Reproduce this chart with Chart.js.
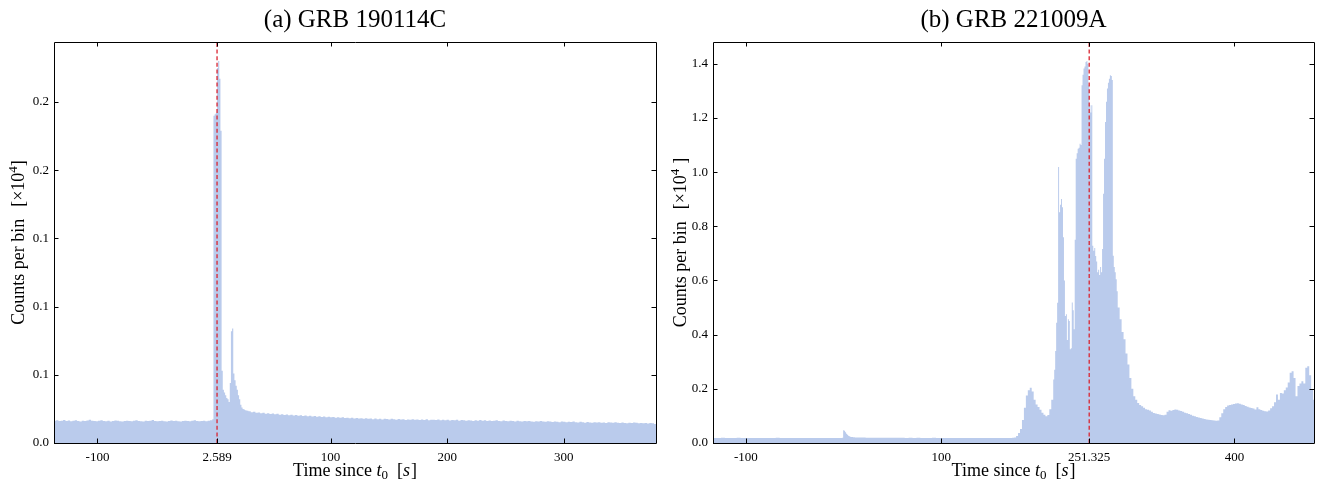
<!DOCTYPE html>
<html>
<head>
<meta charset="utf-8">
<script src="https://cdn.jsdelivr.net/npm/chart.js@4.4.1/dist/chart.umd.min.js"></script>
<style>
  html, body { margin: 0; padding: 0; background: #ffffff; }
  #wrap { position: relative; width: 1325px; height: 484px; overflow: hidden; }
  canvas { position: absolute; top: 0; }
</style>
</head>
<body>
<div id="wrap">
  <canvas id="chartA" width="662" height="484" style="left:0px"></canvas>
  <canvas id="chartB" width="663" height="484" style="left:662px"></canvas>
</div>
<script>
// Counts are stored as raw counts per bin and plotted in units of 10^4.
const COUNT_UNIT = 1e4;

// ---------- (a) GRB 190114C ----------
const titleA = '(a) GRB 190114C';
const timeRangeA = [-137.3, 379.2];
const markerTimeA = 2.589;
const timeTicksA = [-100, 2.589, 100, 200, 300];
const timeTickLabelsA = ['-100', '2.589', '100', '200', '300'];
const countTicksA = [0, 0.05, 0.10, 0.15, 0.20, 0.25];
const countTickLabelsA = ['0.0', '0.1', '0.1', '0.1', '0.2', '0.2'];
// light curve, in runs of equal-width bins (start of first bin, bin width in s)
const runStartsA = [-137.5, -1.5, 29.5];
const runWidthsA = [2, 1, 2];
const countsA_pre = [
  164,166,161,163,168,162,165,160,163,167,
  162,158,163,161,165,170,164,162,159,163,
  166,161,160,164,158,162,165,163,160,157,
  162,164,161,159,163,166,162,160,158,163,
  161,164,168,162,159,161,163,160,158,162,
  165,161,163,159,157,161,164,162,160,163,
  166,161,159,162,164,160,163,167
];
const countsA_burst = [
  175,2400,2410,2420,2750,2800,2670,2290,530,390,
  370,350,330,320,300,440,820,840,510,460,
  420,390,350,320,280,260,250,245,240,238,
  236
];
const countsA_post = [
  232,226,229,221,224,218,222,215,219,213,
  216,210,214,208,211,206,209,204,207,202,
  205,199,203,198,201,196,199,195,198,193,
  196,191,194,189,192,188,191,186,189,185,
  188,183,186,182,185,180,184,179,182,178,
  181,177,180,175,179,174,178,173,177,176,
  172,178,174,170,176,172,175,169,173,171,
  175,170,173,168,172,169,174,167,171,170,
  168,173,166,170,167,171,165,169,166,170,
  164,168,166,163,167,165,162,166,164,168,
  163,166,162,165,161,164,167,162,160,165,
  162,159,164,161,158,163,160,157,162,159,
  161,158,156,160,157,162,158,155,159,157,
  154,158,156,153,157,155,152,156,154,157,
  153,150,155,152,149,154,151,148,153,150,
  152,149,151,147,153,150,148,152,149,146,
  150,147,145,149,146,151,148,145,147,144,
  146,143,147,144,140
];

// ---------- (b) GRB 221009A ----------
const titleB = '(b) GRB 221009A';
const timeRangeB = [-133.7, 481.4];
const markerTimeB = 251.325;
const timeTicksB = [-100, 100, 251.325, 400];
const timeTickLabelsB = ['-100', '100', '251.325', '400'];
const countTicksB = [0, 0.2, 0.4, 0.6, 0.8, 1.0, 1.2, 1.4];
const countTickLabelsB = ['0.0', '0.2', '0.4', '0.6', '0.8', '1.0', '1.2', '1.4'];
const runStartsB = [-133.5, -1.5, 14.5, 170.5, 214.5, 280.5, 330.5];
const runWidthsB = [4, 1, 4, 2, 1, 2, 2];
const countsB_pre = [
  188,184,190,186,183,187,191,185,182,188,
  186,184,189,183,187,185,190,184,182,186,
  188,183,185,187,184,189,186,182,185,188,
  184,186,183
];
const countsB_precursor = [
  190,470,450,400,340,300,270,250,235,225,
  218,212,208,205,203,200
];
const countsB_quiet = [
  205,200,198,196,195,197,193,192,195,190,
  191,194,189,190,188,192,187,189,186,190,
  188,185,187,189,184,186,188,183,185,187,
  184,182,186,183,185,181,184,182,183
];
const countsB_rise = [
  185,190,200,260,370,520,850,1300,1750,1950,
  2040,1900,1600,1420,1330,1230,1120,1040,990,1030,
  1250,1600
];
const countsB_main = [
  2340,2700,3400,4440,5180,10190,8520,8800,9010,8700,
  7600,6000,4690,4750,3800,4570,4500,3460,3500,5190,
  4900,4200,7500,10490,10700,10860,10900,11050,11000,13210,
  13600,13830,13900,14070,14100,14000,13200,12470,12200,12470,
  7280,7100,7200,6900,6700,6300,6400,6200,6500,6300,
  7160,9200,10490,11850,12600,13090,13300,13450,13580,13550,
  13400,6910,6500,6300,6050,5600
];
const countsB_decay = [
  5000,4570,4100,3830,3300,2900,2400,2000,1730,1600,
  1480,1400,1360,1300,1250,1230,1200,1150,1110,1090,
  1070,1050,1030,1020,1040
];
const countsB_tail = [
  1150,1210,1190,1220,1240,1230,1200,1180,1150,1120,
  1100,1070,1040,1010,990,960,940,920,900,890,
  870,860,850,840,830,820,830,950,1100,1250,
  1330,1380,1400,1420,1440,1460,1470,1450,1420,1400,
  1370,1340,1310,1290,1270,1240,1320,1250,1220,1190,
  1170,1160,1200,1280,1360,1500,1790,1600,1850,1830,
  1950,2050,2230,2590,2650,2400,1730,2100,2200,2280,
  2200,2780,2830,2500,1970,1600
];

// ---------- styling ----------
const FILL_COLOR = 'rgb(186,203,236)';
const MARKER_COLOR = 'rgb(218,36,48)';
const SERIF = '"Liberation Serif", "Times New Roman", serif';

// Turn runs of bins into left-edge step points, closing the last bin.
function stepPoints(starts, widths, runs) {
  const pts = [];
  runs.forEach((counts, r) => {
    counts.forEach((c, i) => pts.push({ x: starts[r] + i * widths[r], y: c / COUNT_UNIT }));
  });
  const r = runs.length - 1;
  const last = runs[r];
  pts.push({ x: starts[r] + last.length * widths[r], y: last[last.length - 1] / COUNT_UNIT });
  return pts;
}

// Draw a sequence of text pieces (mixed fonts / super- and subscripts) on one baseline.
function drawPieces(ctx, pieces, cx, baseline) {
  let total = 0;
  pieces.forEach(p => { ctx.font = p.font; p.w = ctx.measureText(p.text).width; total += p.w + (p.gap || 0); });
  let x = cx - total / 2;
  ctx.textAlign = 'left';
  ctx.textBaseline = 'alphabetic';
  pieces.forEach(p => {
    ctx.font = p.font;
    ctx.fillText(p.text, x, baseline + (p.dy || 0));
    x += p.w + (p.gap || 0);
  });
}

// Frame on all four sides, inward ticks, title and axis titles.
const framePlugin = {
  id: 'frame',
  afterDatasetsDraw(chart, args, opts) {
    const { ctx, chartArea: a } = chart;
    const xs = chart.scales.x, ys = chart.scales.y;
    ctx.save();
    ctx.strokeStyle = '#000';
    ctx.lineWidth = 1;
    ctx.beginPath();
    ctx.rect(Math.round(a.left) + 0.5, Math.round(a.top) + 0.5,
             Math.round(a.right - a.left), Math.round(a.bottom - a.top));
    ctx.stroke();
    const len = 4.5;
    ctx.beginPath();
    xs.ticks.forEach(t => {
      const px = Math.round(xs.getPixelForValue(t.value)) + 0.5;
      ctx.moveTo(px, a.bottom); ctx.lineTo(px, a.bottom - len);
      ctx.moveTo(px, a.top); ctx.lineTo(px, a.top + len);
    });
    ys.ticks.forEach(t => {
      const py = Math.round(ys.getPixelForValue(t.value)) + 0.5;
      ctx.moveTo(a.left, py); ctx.lineTo(a.left + len, py);
      ctx.moveTo(a.right, py); ctx.lineTo(a.right - len, py);
    });
    ctx.stroke();

    ctx.fillStyle = '#000';
    const cx = (a.left + a.right) / 2;
    const cy = (a.top + a.bottom) / 2;
    // title
    ctx.font = '25px ' + SERIF;
    ctx.textAlign = 'center';
    ctx.textBaseline = 'alphabetic';
    ctx.fillText(opts.title, cx, a.top - 15);

    // x axis title: Time since t_0  [s]
    const f = '18px ' + SERIF, fi = 'italic 18px ' + SERIF, fs = '13px ' + SERIF;
    drawPieces(ctx, [
      { text: 'Time since ', font: f },
      { text: 't', font: fi },
      { text: '0', font: fs, dy: 3, gap: 9 },
      { text: '[', font: f },
      { text: 's', font: fi, gap: 1 },
      { text: ']', font: f }
    ], cx, a.bottom + 33);

    // y axis title: Counts per bin  [×10^4]
    ctx.translate(opts.yTitleX, cy);
    ctx.rotate(-Math.PI / 2);
    drawPieces(ctx, [
      { text: 'Counts per bin', font: f, gap: 12 },
      { text: '[×10', font: f },
      { text: '4', font: fs, dy: -7, gap: opts.yTitleSpace },
      { text: ']', font: f }
    ], 0, 0);
    ctx.restore();
  }
};

function makeChart(id, cfg) {
  const pts = stepPoints(cfg.starts, cfg.widths, cfg.runs);
  const peak = Math.max(...pts.map(p => p.y));
  const yMax = peak * 1.05;
  return new Chart(document.getElementById(id), {
    type: 'line',
    data: {
      datasets: [
        {
          label: 'marker',
          data: [{ x: cfg.marker, y: 0 }, { x: cfg.marker, y: yMax }],
          borderColor: MARKER_COLOR,
          borderWidth: 1.3,
          borderDash: [4, 2.6],
          pointRadius: 0,
          fill: false
        },
        {
          label: 'counts',
          data: pts,
          stepped: true,
          fill: 'origin',
          backgroundColor: FILL_COLOR,
          borderColor: 'rgba(0,0,0,0)',
          borderWidth: 0,
          pointRadius: 0
        }
      ]
    },
    options: {
      responsive: false,
      animation: false,
      events: [],
      layout: { padding: { top: 42, right: cfg.padRight, bottom: 0, left: 0 } },
      plugins: {
        legend: { display: false },
        tooltip: { enabled: false },
        frame: { title: cfg.title, yTitleX: 24, yTitleSpace: cfg.yTitleSpace }
      },
      scales: {
        x: {
          type: 'linear',
          min: cfg.range[0],
          max: cfg.range[1],
          afterBuildTicks: s => { s.ticks = cfg.xTicks.map(v => ({ value: v })); },
          afterFit: s => { s.height = 41; },
          grid: { display: false, drawTicks: false },
          border: { display: false },
          ticks: {
            autoSkip: false, maxRotation: 0, padding: 7, color: '#000',
            font: { family: SERIF, size: 13 },
            callback: (v, i) => cfg.xLabels[i]
          }
        },
        y: {
          type: 'linear',
          min: 0,
          max: yMax,
          afterBuildTicks: s => { s.ticks = cfg.yTicks.map(v => ({ value: v })); },
          afterFit: s => { s.width = cfg.yWidth; },
          grid: { display: false, drawTicks: false },
          border: { display: false },
          ticks: {
            padding: 5, color: '#000',
            font: { family: SERIF, size: 13 },
            callback: (v, i) => cfg.yLabels[i]
          }
        }
      }
    },
    plugins: [framePlugin]
  });
}

makeChart('chartA', {
  title: titleA,
  starts: runStartsA, widths: runWidthsA,
  runs: [countsA_pre, countsA_burst, countsA_post],
  marker: markerTimeA, range: timeRangeA,
  xTicks: timeTicksA, xLabels: timeTickLabelsA,
  yTicks: countTicksA, yLabels: countTickLabelsA,
  yWidth: 54, padRight: 6, yTitleSpace: 0
});

makeChart('chartB', {
  title: titleB,
  starts: runStartsB, widths: runWidthsB,
  runs: [countsB_pre, countsB_precursor, countsB_quiet, countsB_rise, countsB_main, countsB_decay, countsB_tail],
  marker: markerTimeB, range: timeRangeB,
  xTicks: timeTicksB, xLabels: timeTickLabelsB,
  yTicks: countTicksB, yLabels: countTickLabelsB,
  yWidth: 51, padRight: 11, yTitleSpace: 5
});
</script>
</body>
</html>
